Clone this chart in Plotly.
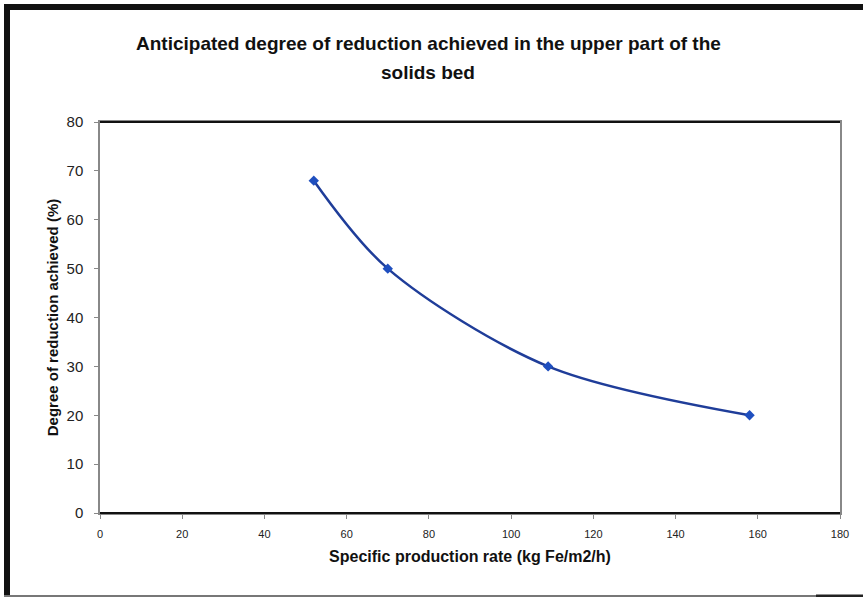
import plotly.graph_objects as go

# Measured points: specific production rate vs. degree of reduction
production_rate = [52, 70, 109, 158]
reduction_pct = [68, 50, 30, 20]

x_ticks = [0, 20, 40, 60, 80, 100, 120, 140, 160, 180]
y_ticks = [0, 10, 20, 30, 40, 50, 60, 70, 80]

title_lines = [
    "Anticipated degree of reduction achieved in the upper part of the",
    "solids bed",
]

W, H = 863, 597
L, R, T, B = 100, 23, 122, 84
pw, ph = W - L - R, H - T - B


def px_x(px):
    return (px - L) / pw


def px_y(py):
    return (H - B - py) / ph


font = "Liberation Sans, Arial, sans-serif"

fig = go.Figure()
fig.add_trace(go.Scatter(
    x=production_rate,
    y=reduction_pct,
    mode="lines+markers",
    line=dict(color="#1f3d99", width=2.5, shape="spline", smoothing=0.9),
    marker=dict(symbol="diamond", size=8, color="#1f4fbf"),
    showlegend=False,
))

shapes = [
    # frame around the whole chart
    dict(type="line", xref="paper", yref="paper", x0=px_x(4), x1=px_x(870),
         y0=px_y(7), y1=px_y(7), line=dict(color="#111", width=6)),
    dict(type="line", xref="paper", yref="paper", x0=px_x(7), x1=px_x(7),
         y0=px_y(4), y1=px_y(597), line=dict(color="#111", width=6)),
    dict(type="line", xref="paper", yref="paper", x0=px_x(4), x1=px_x(816),
         y0=px_y(596), y1=px_y(596), line=dict(color="#777", width=2)),
    dict(type="line", xref="paper", yref="paper", x0=px_x(816), x1=px_x(863),
         y0=px_y(596), y1=px_y(596), line=dict(color="#222", width=3)),
    # darker top and bottom edges of the plot area
    dict(type="line", xref="paper", yref="paper", x0=0, x1=1, y0=1, y1=1,
         line=dict(color="#111", width=2)),
    dict(type="line", xref="paper", yref="paper", x0=0, x1=1, y0=0, y1=0,
         line=dict(color="#111", width=2)),
]

annotations = [
    dict(text=f"<b>{line}</b>", xref="paper", yref="paper",
         x=px_x(428), y=px_y(py), xanchor="center", yanchor="middle",
         showarrow=False, font=dict(size=19, family=font, color="#111"))
    for line, py in zip(title_lines, [44, 73])
]

fig.update_layout(
    width=W, height=H,
    margin=dict(l=L, r=R, t=T, b=B),
    paper_bgcolor="white",
    plot_bgcolor="white",
    font=dict(family=font, color="#111"),
    shapes=shapes,
    annotations=annotations,
    xaxis=dict(
        range=[0, 180], tickvals=x_ticks, showgrid=False, zeroline=False,
        showline=True, linecolor="#888", linewidth=1.5, mirror=True,
        ticks="outside", ticklen=4, tickcolor="#888",
        ticklabelstandoff=6,
        tickfont=dict(size=11, color="#222"),
        title=dict(text="<b>Specific production rate (kg Fe/m2/h)</b>",
                   font=dict(size=16, color="#111"), standoff=12),
    ),
    yaxis=dict(
        range=[0, 80], tickvals=y_ticks, showgrid=False, zeroline=False,
        showline=True, linecolor="#888", linewidth=1.5, mirror=True,
        ticks="outside", ticklen=4, tickcolor="#888",
        ticklabelstandoff=8,
        tickfont=dict(size=15, color="#222"),
        title=dict(text="<b>Degree of reduction achieved (%)</b>",
                   font=dict(size=15, color="#111"), standoff=4),
    ),
)

fig.write_html("out.html")
